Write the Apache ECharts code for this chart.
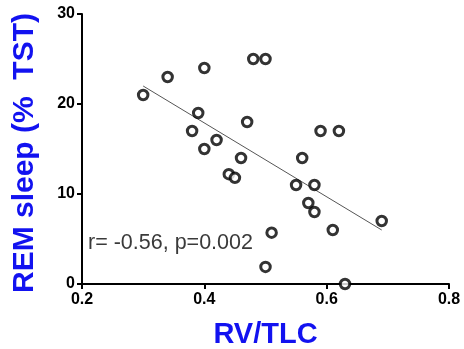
<!DOCTYPE html>
<html>
<head>
<meta charset="utf-8">
<script src="https://cdn.jsdelivr.net/npm/echarts@6/dist/echarts.min.js"></script>
<style>
  html, body { margin: 0; padding: 0; background: #fff; }
  #chart { width: 464px; height: 349px; }
</style>
</head>
<body>
<div id="chart"></div>
<script>
// RV/TLC vs REM sleep
const rvTlc = [0.30, 0.34, 0.40, 0.48, 0.50, 0.39, 0.38, 0.42, 0.40, 0.47, 0.46, 0.44, 0.45,
  0.56, 0.59, 0.62, 0.55, 0.58, 0.57, 0.58, 0.51, 0.61, 0.69, 0.50, 0.63]
const remSleep = [21, 23, 24, 25, 25, 19, 17, 16, 15, 18, 14, 12.2, 11.8,
  14, 17, 17, 11, 11, 9, 8, 5.7, 6, 7, 1.9, 0]

// fitted regression line end points
const fitX = [0.30, 0.69]
const fitY = [22.0, 6.0]

const xTicks = [0.2, 0.4, 0.6, 0.8]
const yTicks = [0, 10, 20, 30]
const annotation = 'r= -0.56, p=0.002'

const BLUE = '#1212f0'

const chart = echarts.init(document.getElementById('chart'))

const axisCommon = {
  axisLine: { lineStyle: { color: '#000', width: 2 } },
  axisTick: { length: 5, lineStyle: { color: '#000', width: 2 } },
  axisLabel: { color: '#000', fontSize: 16, fontWeight: 'bold', fontFamily: 'Liberation Sans, Arial' },
  splitLine: { show: false },
  nameLocation: 'middle',
  nameTextStyle: { color: BLUE, fontWeight: 'bold', fontFamily: 'Liberation Sans, Arial' },
}

chart.setOption({
  animation: false,
  grid: { left: 82, right: 15, top: 14, bottom: 65, containLabel: false, outerBoundsMode: 'none' },
  xAxis: {
    ...axisCommon,
    type: 'value',
    min: xTicks[0],
    max: xTicks[xTicks.length - 1],
    interval: 0.2,
    name: 'RV/TLC',
    nameGap: 36,
    nameTextStyle: { ...axisCommon.nameTextStyle, fontSize: 29 },
    axisLabel: { ...axisCommon.axisLabel, margin: 8, formatter: v => v.toFixed(1) },
  },
  yAxis: {
    ...axisCommon,
    type: 'value',
    min: yTicks[0],
    max: yTicks[yTicks.length - 1],
    interval: 10,
    name: 'REM sleep (%  TST)',
    nameGap: 42,
    nameRotate: 90,
    nameTextStyle: { ...axisCommon.nameTextStyle, fontSize: 30, padding: [0, 8, 0, 0] },
    axisLabel: { ...axisCommon.axisLabel, margin: 7 },
  },
  graphic: [{
    type: 'text',
    left: 88,
    top: 232,
    style: { text: annotation, fill: '#3a3a3a', font: '21.5px "Liberation Sans", Arial' },
  }],
  series: [
    {
      type: 'line',
      data: fitX.map((x, i) => [x, fitY[i]]),
      symbol: 'none',
      lineStyle: { color: '#555', width: 1 },
      z: 1,
    },
    {
      type: 'scatter',
      data: rvTlc.map((x, i) => [x, remSleep[i]]),
      symbol: 'circle',
      symbolSize: 9.5,
      itemStyle: { color: '#fff', borderColor: '#000', borderWidth: 3 },
      clip: false,
      z: 3,
    },
  ],
})
</script>
</body>
</html>
